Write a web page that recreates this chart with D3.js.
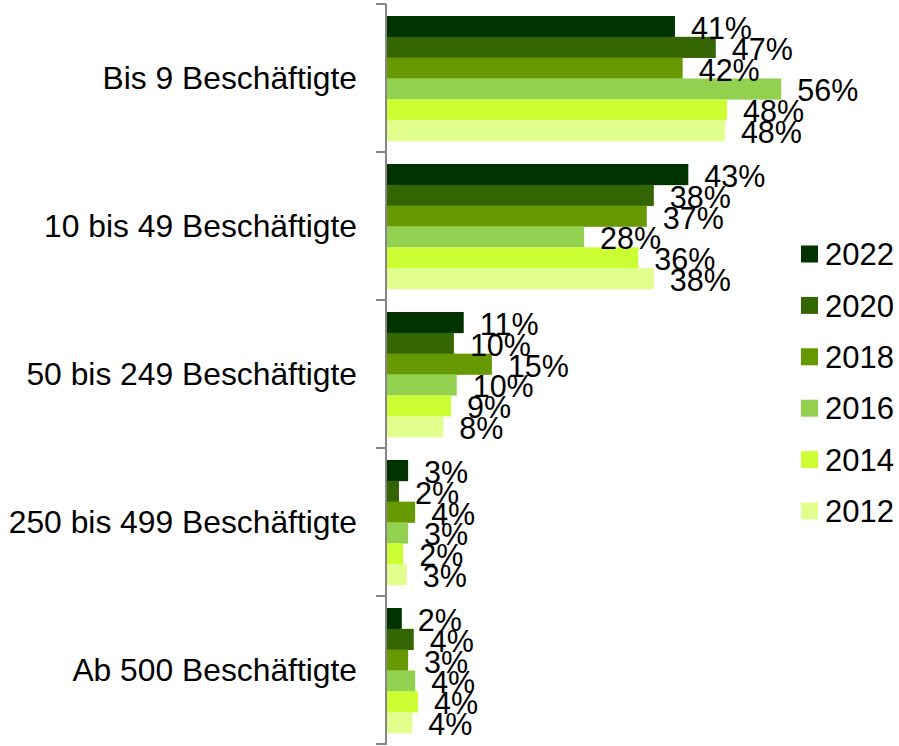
<!DOCTYPE html>
<html>
<head>
<meta charset="utf-8">
<script src="https://cdn.jsdelivr.net/npm/d3@7"></script>
<style>
  html, body { margin: 0; padding: 0; background: #fff; }
  svg { display: block; font-family: 'Liberation Sans', Arial, sans-serif; }
</style>
</head>
<body>
<div id="chart"></div>
<script>
const categories = ['Bis 9 Beschäftigte', '10 bis 49 Beschäftigte', '50 bis 249 Beschäftigte', '250 bis 499 Beschäftigte', 'Ab 500 Beschäftigte'];
const years = ['2022', '2020', '2018', '2016', '2014', '2012'];
const colors = ['#003300', '#336600', '#669900', '#92d050', '#ccff33', '#e0ff8c'];

const values2022 = [40.9, 42.8, 10.9, 3.0, 2.1];
const values2020 = [46.7, 37.9, 9.5, 1.7, 3.8];
const values2018 = [42.0, 36.9, 14.9, 4.0, 3.0];
const values2016 = [56.0, 28.0, 9.9, 3.0, 4.0];
const values2014 = [48.3, 35.7, 9.1, 2.3, 4.4];
const values2012 = [48.0, 37.9, 8.0, 2.8, 3.6];

const series = [values2022, values2020, values2018, values2016, values2014, values2012];

const width = 899;
const height = 746;

const data = categories.flatMap((c, i) => years.map((yr, j) => ({cat: c, year: yr, value: series[j][i], color: colors[j]})));

const svg = d3.select('#chart')
  .append('svg')
  .attr('width', width)
  .attr('height', height)
  .attr('viewBox', [0, 0, width, height]);

const x = d3.scaleLinear()
  .domain([0, 60])
  .range([387, 809.4]);

const y = d3.scaleBand()
  .domain(categories)
  .range([4, 744]);

const y1 = d3.scaleBand()
  .domain(years)
  .range([12, 137]);

// Bars.
svg.append('g')
  .selectAll('rect')
  .data(data)
  .join('rect')
    .attr('x', x(0))
    .attr('y', d => y(d.cat) + y1(d.year))
    .attr('width', d => x(d.value) - x(0))
    .attr('height', y1.bandwidth() + 0.3)
    .attr('fill', d => d.color);

// Axis line and boundary ticks.
const edges = categories.map(c => y(c)).concat([y.range()[1]]);
const axis = svg.append('g')
  .attr('stroke', '#868686')
  .attr('stroke-width', 2);
axis.append('line')
  .attr('x1', 386).attr('x2', 386)
  .attr('y1', edges[0]).attr('y2', edges[edges.length - 1] + 1);
axis.selectAll('.tick')
  .data(edges)
  .join('line')
    .attr('class', 'tick')
    .attr('x1', 376).attr('x2', 386)
    .attr('y1', d => d).attr('y2', d => d);

// Category labels.
svg.append('g')
  .style('font-size', '31.8px')
  .attr('text-anchor', 'end')
  .selectAll('text')
  .data(categories)
  .join('text')
    .attr('x', 357)
    .attr('y', d => y(d) + y.bandwidth() / 2)
    .attr('dy', '0.36em')
    .text(d => d);

// Value labels.
const fmt = d3.format('.0f');
svg.append('g')
  .style('font-size', '30.5px')
  .attr('fill', '#000')
  .selectAll('text')
  .data(data)
  .join('text')
    .attr('x', d => x(d.value) + 16)
    .attr('y', d => y(d.cat) + y1(d.year) + y1.bandwidth() / 2 + 1.5)
    .attr('dy', '0.36em')
    .text(d => fmt(d.value) + '%');

// Legend.
const legend = svg.append('g')
  .selectAll('g')
  .data(years)
  .join('g')
    .attr('transform', (d, i) => `translate(801,${254 + i * 51.4})`);
legend.append('rect')
  .attr('x', 0)
  .attr('y', -8.5)
  .attr('width', 17)
  .attr('height', 17)
  .attr('fill', (d, i) => colors[i]);
legend.append('text')
  .attr('x', 24)
  .attr('dy', '0.36em')
  .style('font-size', '31px')
  .text(d => d);
</script>
</body>
</html>
